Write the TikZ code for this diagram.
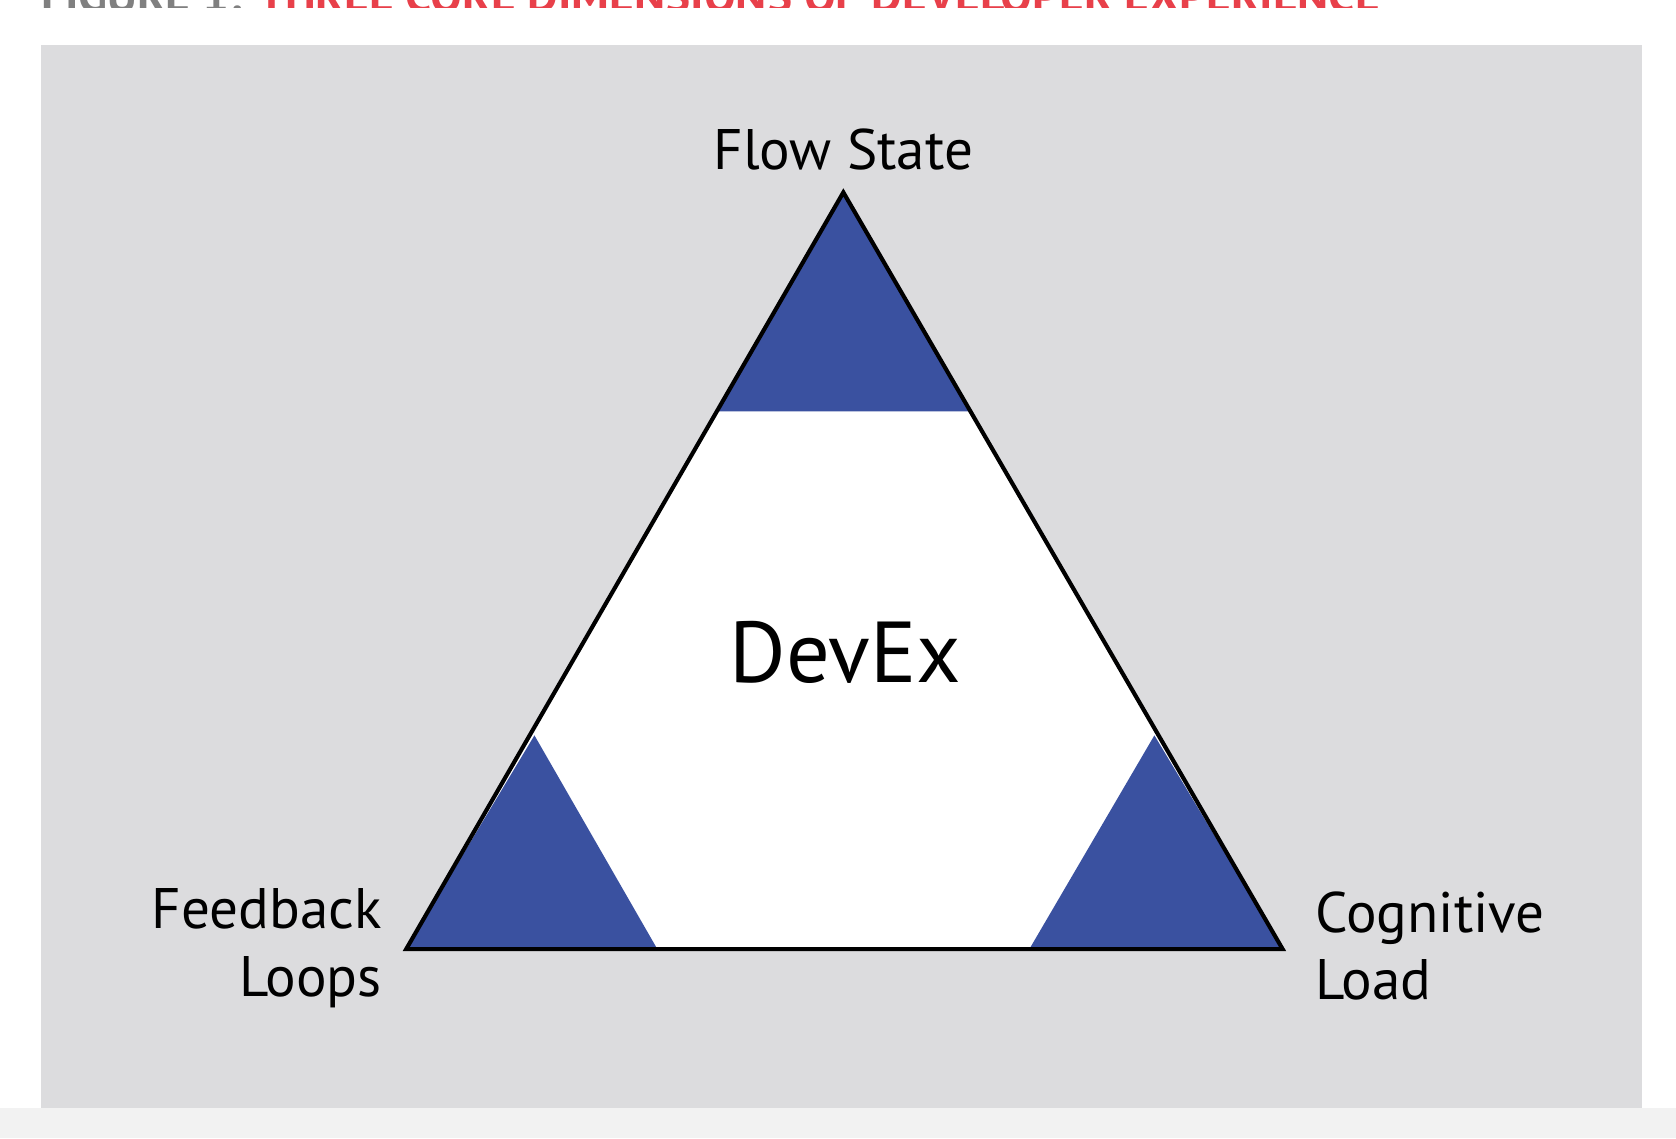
\documentclass[tikz,border=0pt]{standalone}
\usepackage{fontspec}
\setmainfont{PT Sans}
\definecolor{panelgray}{HTML}{DCDCDE}
\definecolor{stripgray}{HTML}{F2F2F2}
\definecolor{dimblue}{HTML}{3A51A0}
\definecolor{titlered}{HTML}{E8404A}
\tikzset{
  corner/.style={fill=dimblue},
  dimlabel/.style={font=\fontsize{15.2}{18}\selectfont, inner sep=0pt},
}
\begin{document}
\begin{tikzpicture}[x=0.01cm, y=-0.01cm] % {{{
\useasboundingbox (0,0) rectangle (1568,1065);
% Background {{{
\fill[white] (0,0) rectangle (1568,1065);
\fill[stripgray] (0,1037) rectangle (1568,1065);
\fill[panelgray] (38,42) rectangle (1536,1037);
\begin{scope}
\clip (0,0) rectangle (1568,7);
\node[anchor=west, inner sep=0pt, font=\bfseries\fontsize{12.6}{15}\selectfont] (title) at (38,-4)
  {\textcolor{gray}{FIGURE 1:} \textcolor{titlered}{THREE CORE DIMENSIONS OF DEVELOPER EXPERIENCE}};
\end{scope} % }}}
% Triangle {{{
\coordinate (top) at (789,180);
\coordinate (bl) at (380,888);
\coordinate (br) at (1200,888);
\fill[white] (top) -- (bl) -- (br) -- cycle;
\fill[corner] (top) -- (671,385) -- (907,385) -- cycle;
\fill[corner] (bl) -- (615,888) -- (500,688) -- cycle;
\fill[corner] (br) -- (963,888) -- (1080,688) -- cycle;
\draw[line width=1.1pt, line join=miter] (top) -- (bl) -- (br) -- cycle;
% }}}
% Labels {{{
\node[dimlabel] (flow) at (789,140) {Flow State};
\node[dimlabel, anchor=east, align=right] (feedback) at (358,887) {Feedback\\Loops};
\node[dimlabel, anchor=west, align=left] (cognitive) at (1230,885) {Cognitive\\Load};
\node[inner sep=0pt, font=\fontsize{23}{27}\selectfont] (devex) at (791,610) {DevEx};
% }}}
\end{tikzpicture}
\end{document}
